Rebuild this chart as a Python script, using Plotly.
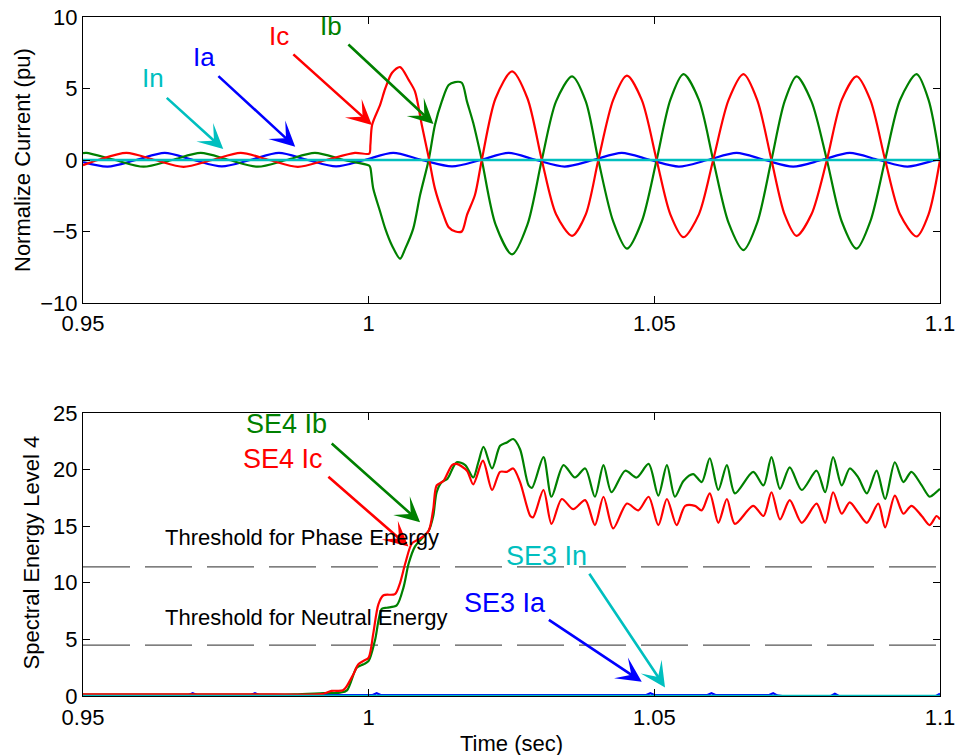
import plotly.graph_objects as go

# ---------------- Top panel: normalized currents (pu) ----------------
ia_t = [0.95, 0.9543, 0.9593, 0.9643, 0.9693, 0.9743, 0.9793, 0.9843, 0.9893, 0.9943,
        0.9993, 1.0043, 1.0093, 1.0146, 1.0196, 1.0245, 1.0293, 1.0343, 1.0393, 1.0443,
        1.0493, 1.0543, 1.0593, 1.0644, 1.0693, 1.0743, 1.0793, 1.0842, 1.0893, 1.0943,
        1.0993, 1.1]
ia_v = [-0.15, -0.46, 0.0, 0.5, 0.0, -0.45, 0.0, 0.5, 0.0, -0.45,
        0.0, 0.5, 0.0, -0.45, 0.0, 0.5, 0.0, -0.46, 0.0, 0.5,
        0.0, -0.46, 0.0, 0.5, 0.0, -0.46, 0.0, 0.5, 0.0, -0.46,
        0.0, 0.05]

ib_t = [0.95, 0.9506, 0.9556, 0.9606, 0.9656, 0.9706, 0.9756, 0.9806, 0.9856, 0.9906,
        0.9956, 1.0001, 1.0003, 1.0008, 1.0020, 1.0029, 1.0041, 1.0055, 1.0064, 1.0078,
        1.0090, 1.0105, 1.0116, 1.0128, 1.0140, 1.0151, 1.0163, 1.0172, 1.0183, 1.0198,
        1.0222, 1.0251, 1.0278, 1.0303, 1.0328, 1.0356, 1.0380, 1.0402, 1.0428, 1.0452,
        1.0478, 1.0504, 1.0528, 1.0551, 1.0578, 1.0603, 1.0630, 1.0656, 1.0680, 1.0705,
        1.0728, 1.0749, 1.0775, 1.0802, 1.0828, 1.0854, 1.0878, 1.0904, 1.0930, 1.0959,
        1.0980, 1.1]
ib_v = [0.48, 0.5, 0.0, -0.47, 0.0, 0.5, 0.0, -0.47, 0.0, 0.5,
        0.0, -0.4, -0.55, -2.0, -3.6, -4.8, -6.0, -6.9, -6.2, -4.8,
        -2.45, 0.0, 2.45, 4.1, 5.25, 5.45, 5.4, 4.1, 2.6, 0.0,
        -4.5, -6.6, -4.5, 0.0, 4.1, 5.85, 4.1, 0.0, -4.3, -6.2,
        -4.3, 0.0, 4.2, 6.0, 4.2, 0.0, -4.4, -6.3, -4.4, 0.0,
        4.1, 5.85, 4.1, 0.0, -4.3, -6.2, -4.3, 0.0, 4.2, 6.0,
        4.2, 0.0]

ic_t = [0.95, 0.9526, 0.9576, 0.9626, 0.9676, 0.9726, 0.9776, 0.9826, 0.9876, 0.9926,
        0.9976, 1.0001, 1.0003, 1.0006, 1.0020, 1.0029, 1.0041, 1.0055, 1.0070, 1.0081,
        1.0093, 1.0106, 1.0116, 1.0131, 1.0140, 1.0152, 1.0163, 1.0172, 1.0186, 1.0198,
        1.0222, 1.0251, 1.0278, 1.0303, 1.0328, 1.0356, 1.0380, 1.0402, 1.0428, 1.0452,
        1.0478, 1.0504, 1.0528, 1.0551, 1.0578, 1.0603, 1.0630, 1.0656, 1.0680, 1.0705,
        1.0728, 1.0749, 1.0775, 1.0802, 1.0828, 1.0854, 1.0878, 1.0904, 1.0930, 1.0959,
        1.0980, 1.1]
ic_v = [-0.36, 0.0, 0.5, 0.0, -0.48, 0.0, 0.5, 0.0, -0.48, 0.0,
        0.5, 0.45, 1.05, 2.45, 3.85, 5.0, 6.1, 6.5, 5.6, 4.8,
        2.45, 0.0, -2.0, -3.85, -4.7, -5.0, -5.0, -3.85, -2.45, 0.0,
        4.3, 6.2, 4.3, 0.0, -3.8, -5.3, -3.8, 0.0, 4.2, 5.9,
        4.2, 0.0, -3.8, -5.4, -3.8, 0.0, 4.2, 6.0, 4.2, 0.0,
        -3.8, -5.3, -3.8, 0.0, 4.2, 5.85, 4.2, 0.0, -3.8, -5.35,
        -3.8, 0.0]

in_t = [0.95, 1.0, 1.05, 1.1]
in_v = [0.0, 0.0, 0.0, 0.0]

# ---------------- Bottom panel: spectral energy ----------------
se4ib_t = [0.95, 0.96, 0.97, 0.98, 0.987, 0.9921, 0.995, 0.9962, 0.9979, 0.9991,
           1.0, 1.0011, 1.0023, 1.0032, 1.0049, 1.0061, 1.0070, 1.0081, 1.0093, 1.0105,
           1.0113, 1.0119, 1.0128, 1.0138, 1.0154, 1.0169, 1.0183, 1.0192, 1.0201, 1.0216,
           1.0230, 1.0242, 1.0253, 1.0265, 1.0280, 1.0286, 1.0306, 1.0320, 1.0341, 1.0361,
           1.0379, 1.0396, 1.0411, 1.0425, 1.0449, 1.0469, 1.0490, 1.0507, 1.0522, 1.0536,
           1.0551, 1.0568, 1.0583, 1.0597, 1.0612, 1.0627, 1.0641, 1.0673, 1.0691, 1.0705,
           1.0720, 1.0737, 1.0758, 1.0784, 1.0799, 1.0813, 1.0828, 1.0842, 1.0857, 1.0872,
           1.0889, 1.0904, 1.0921, 1.0936, 1.0950, 1.0968, 1.0982, 1.0991, 1.1]
se4ib_v = [0.12, 0.12, 0.12, 0.12, 0.15, 0.25, 0.3, 0.5, 2.5, 2.8,
           3.1, 4.9, 7.7, 7.8, 8.0, 9.6, 11.7, 13.2, 13.9, 14.6,
           15.9, 18.0, 18.9, 19.2, 20.65, 20.4, 19.3, 20.65, 22.0, 20.1,
           22.1, 22.4, 22.7, 21.8, 18.6, 18.4, 21.1, 17.6, 20.4, 19.3,
           20.1, 17.6, 20.4, 18.0, 19.9, 19.3, 20.5, 17.7, 20.4, 17.6,
           19.0, 19.6, 18.9, 21.0, 18.2, 20.4, 17.9, 19.8, 18.6, 21.1,
           18.3, 20.2, 18.2, 19.9, 18.0, 21.1, 18.6, 20.1, 19.3, 17.9,
           19.9, 17.4, 20.65, 18.9, 19.8, 18.6, 17.6, 17.9, 18.3]

se4ic_t = [0.95, 0.96, 0.97, 0.98, 0.9921, 0.9935, 0.9955, 0.9962, 0.9973, 0.9982,
           0.9991, 1.0, 1.0008, 1.0017, 1.0026, 1.0046, 1.0055, 1.0064, 1.0076, 1.0090,
           1.0105, 1.0113, 1.0119, 1.0131, 1.0146, 1.0154, 1.0172, 1.0183, 1.0200, 1.0216,
           1.0230, 1.0242, 1.0253, 1.0265, 1.0283, 1.0288, 1.0306, 1.0320, 1.0338, 1.0358,
           1.0379, 1.0396, 1.0411, 1.0428, 1.0452, 1.0472, 1.0490, 1.0507, 1.0522, 1.0539,
           1.0554, 1.0571, 1.0583, 1.0597, 1.0612, 1.0627, 1.0641, 1.0673, 1.0691, 1.0705,
           1.0720, 1.0737, 1.0758, 1.0784, 1.0799, 1.0813, 1.0828, 1.0842, 1.0857, 1.0872,
           1.0892, 1.0904, 1.0921, 1.0936, 1.0950, 1.0968, 1.0982, 1.0994, 1.1]
se4ic_v = [0.15, 0.15, 0.15, 0.15, 0.2, 0.45, 0.5, 0.9, 1.9, 2.8,
           3.1, 3.4, 5.5, 8.1, 8.9, 9.0, 10.0, 11.7, 13.5, 13.9,
           14.6, 16.5, 18.6, 19.0, 20.4, 20.5, 19.9, 18.7, 20.8, 18.2,
           19.8, 19.8, 20.1, 18.9, 15.9, 15.8, 18.2, 15.2, 17.4, 16.5,
           17.3, 15.1, 17.6, 14.8, 17.0, 16.4, 17.6, 15.1, 17.4, 15.1,
           16.8, 16.8, 16.4, 17.9, 15.3, 17.4, 15.2, 16.8, 15.9, 18.0,
           15.6, 17.3, 15.3, 17.0, 15.3, 18.0, 16.1, 17.1, 16.2, 15.3,
           17.0, 14.9, 17.7, 16.1, 16.8, 15.9, 15.1, 15.9, 15.6]

se3ia_t = [0.95, 0.9685, 0.9692, 0.9699, 0.9794, 0.9801, 0.9808, 1.0007, 1.0014, 1.0021,
           1.0486, 1.0493, 1.0500, 1.0593, 1.0600, 1.0607, 1.0701, 1.0708, 1.0715, 1.0724,
           1.0809, 1.0816, 1.0823, 1.0993, 1.1]
se3ia_v = [0.08, 0.08, 0.25, 0.08, 0.08, 0.25, 0.08, 0.08, 0.25, 0.08,
           0.08, 0.25, 0.08, 0.08, 0.25, 0.08, 0.08, 0.25, 0.05, 0.0,
           0.0, 0.2, 0.0, 0.0, 0.2]

se3in_t = [0.95, 1.0, 1.05, 1.1]
se3in_v = [0.0, 0.0, 0.0, 0.0]

threshold_phase = 11.4
threshold_neutral = 4.5

x_ticks = [0.95, 1.0, 1.05, 1.1]
x_ticklabels = ["0.95", "1", "1.05", "1.1"]
y1_ticks = [-10, -5, 0, 5, 10]
y2_ticks = [0, 5, 10, 15, 20, 25]

BLUE, GREEN, RED, CYAN = "#0000FF", "#008000", "#FF0000", "#00BFBF"
FONT = "Arial, 'Liberation Sans', sans-serif"

fig = go.Figure()

def line(t, v, color, xa, ya, width=2.2, shape="spline"):
    fig.add_trace(go.Scatter(x=t, y=v, mode="lines", xaxis=xa, yaxis=ya,
                             line=dict(color=color, width=width, shape=shape, smoothing=0.8),
                             showlegend=False, hoverinfo="skip"))

line(ia_t, ia_v, BLUE, "x", "y")
line(ib_t, ib_v, GREEN, "x", "y")
line(ic_t, ic_v, RED, "x", "y")
line(in_t, in_v, CYAN, "x", "y", width=2.6, shape="linear")

# threshold dashed lines
for thr in (threshold_phase, threshold_neutral):
    fig.add_trace(go.Scatter(x=[x_ticks[0], x_ticks[-1]], y=[thr, thr], mode="lines",
                             xaxis="x2", yaxis="y2",
                             line=dict(color="#555555", width=1.2, dash="47px,15px"),
                             showlegend=False, hoverinfo="skip"))

line(se3ia_t, se3ia_v, BLUE, "x2", "y2", shape="linear")
line(se4ib_t, se4ib_v, GREEN, "x2", "y2")
line(se4ic_t, se4ic_v, RED, "x2", "y2")
line(se3in_t, se3in_v, CYAN, "x2", "y2", width=2.6, shape="linear")

axis_common = dict(showline=True, linecolor="black", linewidth=1.2, mirror="allticks",
                   ticks="inside", ticklen=7, tickcolor="black", tickwidth=1,
                   showgrid=False, zeroline=False, automargin=False,
                   tickfont=dict(family=FONT, size=22, color="black"))

fig.update_layout(
    width=957, height=755,
    margin=dict(l=83, r=17, t=17, b=59, autoexpand=False),
    paper_bgcolor="white", plot_bgcolor="white",
    font=dict(family=FONT, size=22, color="black"),
    xaxis=dict(domain=[0, 1], anchor="y", range=[0.95, 1.1], tickvals=x_ticks,
               ticktext=x_ticklabels, ticklabelstandoff=1, **axis_common),
    yaxis=dict(domain=[0.5788, 1], anchor="x", range=[-10, 10], tickvals=y1_ticks,
               ticklabelstandoff=0, **axis_common),
    xaxis2=dict(domain=[0, 1], anchor="y2", range=[0.95, 1.1], tickvals=x_ticks,
                ticktext=x_ticklabels, ticklabelstandoff=1, **axis_common),
    yaxis2=dict(domain=[0, 0.4168], anchor="x2", range=[0, 25], tickvals=y2_ticks,
                ticklabelstandoff=0, **axis_common),
)

# axis titles as paper annotations (precise placement)
fig.add_annotation(text="Normalize Current (pu)", xref="paper", yref="paper",
                   x=-0.0700, y=(0.5788 + 1) / 2, textangle=-90, showarrow=False,
                   xanchor="center", yanchor="middle", font=dict(family=FONT, size=22))
fig.add_annotation(text="Spectral Energy Level 4", xref="paper", yref="paper",
                   x=-0.0607, y=0.4168 / 2 + 0.003, textangle=-90, showarrow=False,
                   xanchor="center", yanchor="middle", font=dict(family=FONT, size=22))
fig.add_annotation(text="Time (sec)", xref="paper", yref="paper",
                   x=0.5, y=-0.070, showarrow=False,
                   xanchor="center", yanchor="middle", font=dict(family=FONT, size=22))

def label(text, x, y, color, xr, yr, size=26, xanchor="center"):
    fig.add_annotation(text=text, x=x, y=y, xref=xr, yref=yr, showarrow=False,
                       xanchor=xanchor, yanchor="middle",
                       font=dict(family=FONT, size=size, color=color))

def arrow(x0, y0, x1, y1, color, xr, yr):
    fig.add_annotation(text="", x=x1, y=y1, ax=x0, ay=y0, xref=xr, yref=yr,
                       axref=xr, ayref=yr, showarrow=True, arrowhead=3,
                       arrowsize=1.6, arrowwidth=2.6, arrowcolor=color)

# top labels
label("In", 0.96221, 5.76, CYAN, "x", "y")
arrow(0.9644, 4.44, 0.97455, 0.77, CYAN, "x", "y")
label("Ia", 0.9711, 7.18, BLUE, "x", "y")
arrow(0.97344, 5.96, 0.98714, 0.93, BLUE, "x", "y")
label("Ic", 0.98434, 8.64, RED, "x", "y")
arrow(0.98656, 7.48, 1.00056, 2.45, RED, "x", "y")
label("Ib", 0.99341, 9.40, GREEN, "x", "y")
arrow(0.99619, 8.18, 1.01134, 2.52, GREEN, "x", "y")

# bottom labels
label("SE4 Ib", 0.98569, 24.05, GREEN, "x2", "y2", size=27)
arrow(0.99327, 22.42, 1.0090, 15.35, GREEN, "x2", "y2")
label("SE4 Ic", 0.98496, 20.95, RED, "x2", "y2", size=27)
arrow(0.99269, 19.48, 1.00696, 13.2, RED, "x2", "y2")
label("Threshold for Phase Energy", 0.96405, 14.02, "black", "x2", "y2", size=22, xanchor="left")
label("Threshold for Neutral Energy", 0.96405, 6.95, "black", "x2", "y2", size=22, xanchor="left")
label("SE3 In", 1.03105, 12.41, CYAN, "x2", "y2", size=27)
arrow(1.03845, 10.93, 1.05187, 0.76, CYAN, "x2", "y2")
label("SE3 Ia", 1.02379, 8.22, BLUE, "x2", "y2", size=27)
arrow(1.03128, 6.81, 1.04780, 1.26, BLUE, "x2", "y2")

fig.write_html("out.html")
